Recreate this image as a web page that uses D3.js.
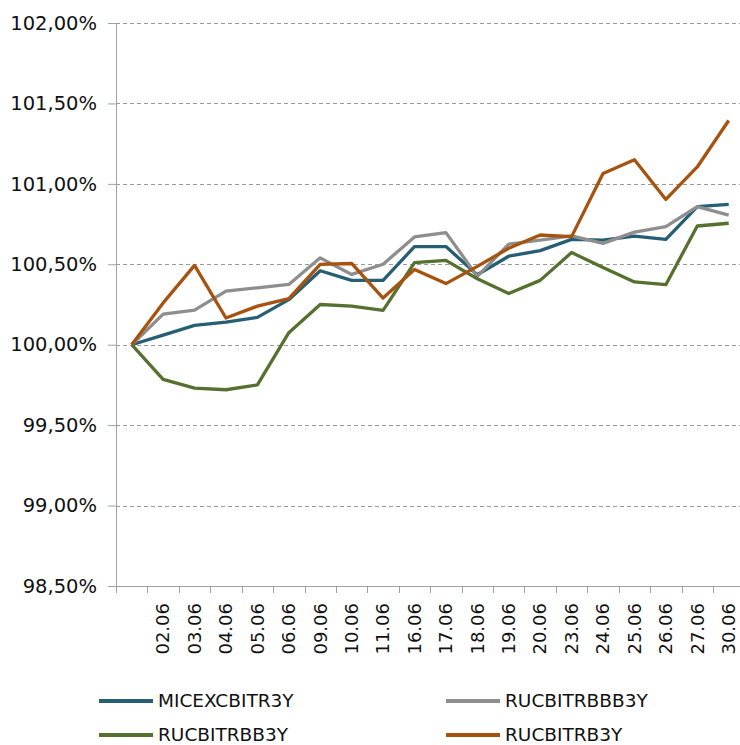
<!DOCTYPE html>
<html>
<head>
<meta charset="utf-8">
<script src="https://cdn.jsdelivr.net/npm/d3@7"></script>
<style>
  body { margin: 0; background: #fff; }
  svg { display: block; font-family: "DejaVu Sans", Verdana, sans-serif; }
</style>
</head>
<body>
<svg width="740" height="745"></svg>
<script>
// dates on the x axis (first point has no label)
var dates = ["", "02.06", "03.06", "04.06", "05.06", "06.06", "09.06", "10.06", "11.06", "16.06",
  "17.06", "18.06", "19.06", "20.06", "23.06", "24.06", "25.06", "26.06", "27.06", "30.06"];

var yTicks = [98.5, 99, 99.5, 100, 100.5, 101, 101.5, 102];

var names = ["MICEXCBITR3Y", "RUCBITRBBB3Y", "RUCBITRBB3Y", "RUCBITRB3Y"];
var colors = ["#265f74", "#8e8e8e", "#56702f", "#a7520e"];

// values in %
var micex = [100, 100.06, 100.12, 100.14, 100.17, 100.28, 100.46, 100.40, 100.40, 100.61,
  100.61, 100.435, 100.55, 100.585, 100.655, 100.65, 100.675, 100.655, 100.858, 100.872];
var bbb = [100, 100.19, 100.215, 100.333, 100.354, 100.375, 100.54, 100.437, 100.50, 100.67,
  100.697, 100.425, 100.625, 100.65, 100.676, 100.63, 100.70, 100.734, 100.858, 100.806];
var bb = [100, 99.785, 99.73, 99.72, 99.75, 100.075, 100.25, 100.24, 100.213, 100.51,
  100.524, 100.41, 100.318, 100.40, 100.573, 100.48, 100.39, 100.373, 100.738, 100.755];
var b = [100, 100.26, 100.493, 100.166, 100.24, 100.286, 100.50, 100.505, 100.29, 100.468,
  100.38, 100.487, 100.60, 100.682, 100.672, 101.064, 101.15, 100.903, 101.105, 101.394];

var series = [micex, bbb, bb, b];

var svg = d3.select('svg');
var plotLeft = 116, plotTop = 23, plotBottom = 586, step = 31.42;

var x = d3.scaleBand()
    .domain(dates)
    .range([plotLeft, plotLeft + step * dates.length]);

var y = d3.scaleLinear()
    .domain([98.5, 102])
    .range([plotBottom, plotTop]);

var fmt = function (d) { return d3.format('.2f')(d).replace('.', ',') + '%'; };

/* ----------- grid ----------- */
svg.append('g')
    .selectAll('line')
    .data(yTicks.filter(function (d) { return d > 98.5; }))
    .enter()
    .append('line')
    .attr('x1', plotLeft)
    .attr('x2', 740)
    .attr('y1', function (d) { return Math.round(y(d)) + 0.5; })
    .attr('y2', function (d) { return Math.round(y(d)) + 0.5; })
    .attr('stroke', '#9a9a9a')
    .attr('stroke-width', 1)
    .attr('stroke-dasharray', '4,3');

/* ----------- y axis ----------- */
var yAxis = svg.append('g')
    .attr('transform', 'translate(' + plotLeft + ',0)')
    .call(d3.axisLeft(y).tickValues(yTicks).tickSize(8).tickPadding(11).tickFormat(fmt));

yAxis.select('.domain').attr('stroke', '#a0a0a0');
yAxis.selectAll('.tick line').attr('stroke', '#a0a0a0');
yAxis.selectAll('text')
    .attr('font-size', 19.5)
    .attr('font-family', '"DejaVu Sans", Verdana, sans-serif')
    .attr('fill', '#111');

/* ----------- x axis ----------- */
var xAxis = svg.append('g')
    .attr('transform', 'translate(0,' + plotBottom + ')')
    .call(d3.axisBottom(x).tickSize(0).tickSizeOuter(0));

xAxis.select('.domain')
    .attr('stroke', '#a0a0a0')
    .attr('d', 'M' + plotLeft + ',0.5H740');

xAxis.selectAll('text')
    .attr('font-size', 18)
    .attr('font-family', '"DejaVu Sans", Verdana, sans-serif')
    .attr('fill', '#111')
    .attr('transform', 'rotate(-90)')
    .attr('text-anchor', 'end')
    .attr('x', -17)
    .attr('y', 0)
    .attr('dy', '0.35em');

// tick marks sit between the categories
xAxis.append('g')
    .selectAll('line')
    .data(dates)
    .enter()
    .append('line')
    .attr('x1', function (d) { return Math.round(x(d)) + 0.5; })
    .attr('x2', function (d) { return Math.round(x(d)) + 0.5; })
    .attr('y1', 0)
    .attr('y2', 7)
    .attr('stroke', '#a0a0a0');

/* ----------- lines ----------- */
var line = d3.line()
    .x(function (d, i) { return x(dates[i]) + x.bandwidth() / 2; })
    .y(function (d) { return y(d); });

svg.append('g')
    .selectAll('path')
    .data(series)
    .enter()
    .append('path')
    .attr('fill', 'none')
    .attr('stroke', function (d, i) { return colors[i]; })
    .attr('stroke-width', 3.3)
    .attr('stroke-linejoin', 'round')
    .attr('d', line);

/* ----------- legend ----------- */
var legend = svg.append('g')
    .selectAll('g')
    .data(names)
    .enter()
    .append('g')
    .attr('transform', function (d, i) {
        return 'translate(' + (i % 2 ? 446 : 99) + ',' + (i < 2 ? 701 : 735) + ')';
    });

legend.append('line')
    .attr('x1', 0)
    .attr('x2', 54)
    .attr('stroke', function (d, i) { return colors[i]; })
    .attr('stroke-width', 4);

legend.append('text')
    .attr('x', 59)
    .attr('dy', '0.35em')
    .attr('font-size', 18.5)
    .attr('fill', '#111')
    .text(function (d) { return d; });
</script>
</body>
</html>
